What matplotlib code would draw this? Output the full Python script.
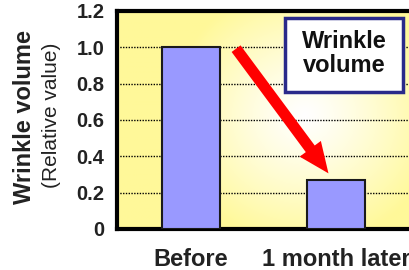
import matplotlib.pyplot as plt
import numpy as np
from matplotlib.patches import Rectangle

categories = ['Before', '1 month later']
values = [1.0, 0.27]
yticks = [0, 0.2, 0.4, 0.6, 0.8, 1.0, 1.2]
ytick_labels = ['0', '0.2', '0.4', '0.6', '0.8', '1.0', '1.2']

plt.rcParams['font.family'] = ['Liberation Sans', 'DejaVu Sans']

fig = plt.figure(figsize=(4.1, 2.7), dpi=100)
ax = fig.add_axes([117 / 410, 1 - 229 / 270, 303 / 410, 218 / 270])

# radial yellow/white background
gx, gy = np.meshgrid(np.linspace(0, 1, 300), np.linspace(0, 1, 220))
r = np.sqrt(((gx - 0.62) / 0.45) ** 2 + ((gy - 0.52) / 0.6) ** 2)
t = np.clip(r, 0, 1) ** 1.2
yellow = np.array([1.0, 0.975, 0.60])
white = np.array([1.0, 1.0, 1.0])
img = white[None, None, :] * (1 - t[..., None]) + yellow[None, None, :] * t[..., None]
ax.imshow(img, extent=[0, 1, 0, 1], transform=ax.transAxes, origin='lower',
          aspect='auto', zorder=0)

x = np.arange(len(categories))
ax.bar(x, values, width=0.4, color='#9999ff', edgecolor='#1a1a1a', linewidth=1.5, zorder=3)

for yv in yticks[1:-1]:
    ax.axhline(yv, color='black', linestyle=(0, (1, 1)), linewidth=1.0, zorder=1)

ax.set_xlim(-0.51, 1.58)
ax.set_ylim(0, 1.2)
ax.set_yticks(yticks)
ax.set_yticklabels(ytick_labels, fontsize=14.5, fontweight='bold', color='#222222')
ax.set_xticks(x)
ax.set_xticklabels(categories, fontsize=17, fontweight='bold', color='#222222')
ax.tick_params(length=0, pad=9)
ax.tick_params(axis='x', pad=14)
for s in ax.spines.values():
    s.set_linewidth(3)
    s.set_color('black')

fig.text(25 / 410, 1 - 117 / 270, 'Wrinkle volume', rotation=90, fontsize=17,
         fontweight='bold', ha='center', va='center', color='#222222')
fig.text(52 / 410, 1 - 115 / 270, '(Relative value)', rotation=90, fontsize=15,
         ha='center', va='center', color='#222222')

# red arrow
ax.annotate('', xy=(0.96, 0.294), xytext=(0.30, 1.005),
            arrowprops=dict(arrowstyle='simple,head_length=22,head_width=19,tail_width=8',
                            mutation_scale=1, color='#ff0000', lw=0), zorder=4)

# label box
ax.add_patch(Rectangle((0.554, 0.628), 0.39, 0.34, transform=ax.transAxes,
                       facecolor='white', edgecolor='#2a2a8a', linewidth=2.5, zorder=5))
ax.text(0.749, 0.805, 'Wrinkle\nvolume', transform=ax.transAxes, fontsize=17,
        fontweight='bold', ha='center', va='center', color='#111111',
        linespacing=1.1, zorder=6)

plt.savefig('out.png', dpi=100)
